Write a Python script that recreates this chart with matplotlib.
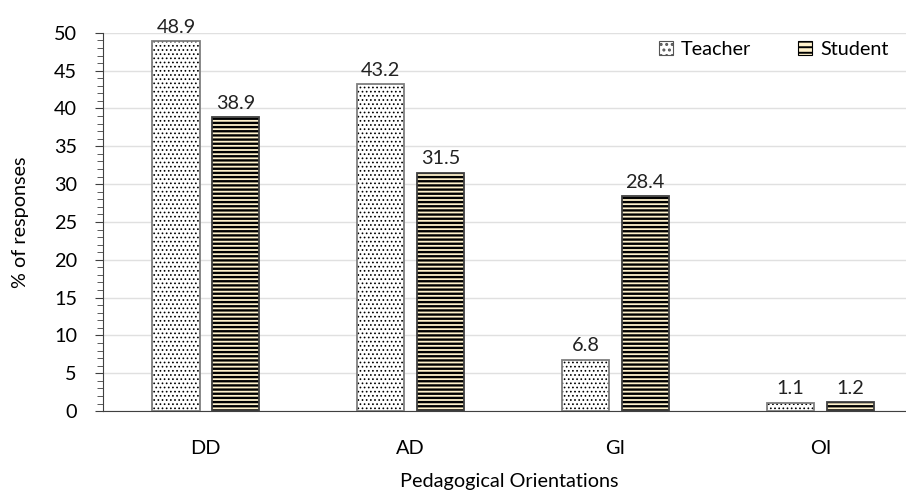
#!/usr/bin/env python3
"""Teacher vs student pedagogical orientations — grouped hatched bars."""

import matplotlib
matplotlib.use("Agg")
import matplotlib.pyplot as plt
from matplotlib.patches import Patch
from matplotlib.ticker import MultipleLocator
import numpy as np

categories = ["DD", "AD", "GI", "OI"]
teacher = [48.9, 43.2, 6.8, 1.1]
student = [38.9, 31.5, 28.4, 1.2]

plt.rcParams["font.family"] = ["Lato", "DejaVu Sans"]
FS = 14.3

fig = plt.figure(figsize=(9.06, 4.9), dpi=100)
ax = fig.add_axes([0.114, 0.161, 0.8955, 0.772])

x = np.arange(len(categories))
w = 0.23
off = 0.145

# fills + hatches (hatch colour follows edgecolor), then outlines on top
plt.rcParams["hatch.linewidth"] = 0.7
ax.bar(x - off, teacher, w, color="white", edgecolor="black", hatch="....", linewidth=0, zorder=2)
h1 = Patch(facecolor="white", edgecolor="#555555", hatch="...", linewidth=0.8)
plt.rcParams["hatch.linewidth"] = 1.7
ax.bar(x + off, student, w, color="#fff2cc", edgecolor="black", hatch="----", linewidth=0, zorder=2)
plt.rcParams["hatch.linewidth"] = 1.4
h2 = Patch(facecolor="#fff2cc", edgecolor="black", hatch="---", linewidth=0.8)
ax.bar(x - off, teacher, w, fill=False, edgecolor="#7f7f7f", linewidth=1.3, zorder=3)
ax.bar(x + off, student, w, fill=False, edgecolor="#404040", linewidth=1.3, zorder=3)

for i, (t, s) in enumerate(zip(teacher, student)):
    ax.text(i - off, t + 0.7, f"{t}", ha="center", va="bottom", fontsize=FS, color="#222")
    ax.text(i + off, s + 0.7, f"{s}", ha="center", va="bottom", fontsize=FS, color="#222")

ax.legend([h1, h2], ["Teacher", "Student"], loc="upper right", ncol=2, frameon=False,
          fontsize=FS, handlelength=0.7, handleheight=0.7, handletextpad=0.4,
          columnspacing=2.4, bbox_to_anchor=(0.99, 1.025))

ax.set_xlim(-0.5, 3.46)
ax.set_ylim(0, 50)
ax.set_xticks(x)
ax.set_xticklabels(categories, fontsize=FS)
ax.tick_params(axis="x", length=0, pad=21)
ax.yaxis.set_major_locator(MultipleLocator(5))
ax.yaxis.set_minor_locator(MultipleLocator(1))
ax.tick_params(axis="y", which="major", length=6, labelsize=FS, pad=13, color="#404040")
ax.tick_params(axis="y", which="minor", length=4, color="#404040")
ax.set_ylabel("% of responses", fontsize=FS, labelpad=18)
ax.set_xlabel("Pedagogical Orientations", fontsize=FS, labelpad=11)

for side in ("top", "right"):
    ax.spines[side].set_visible(False)
ax.spines["left"].set_color("#404040")
ax.spines["bottom"].set_color("#404040")
ax.grid(axis="y", color="#e0e0e0", linewidth=1)
ax.set_axisbelow(True)

fig.savefig("out.png", dpi=100, facecolor="white")
